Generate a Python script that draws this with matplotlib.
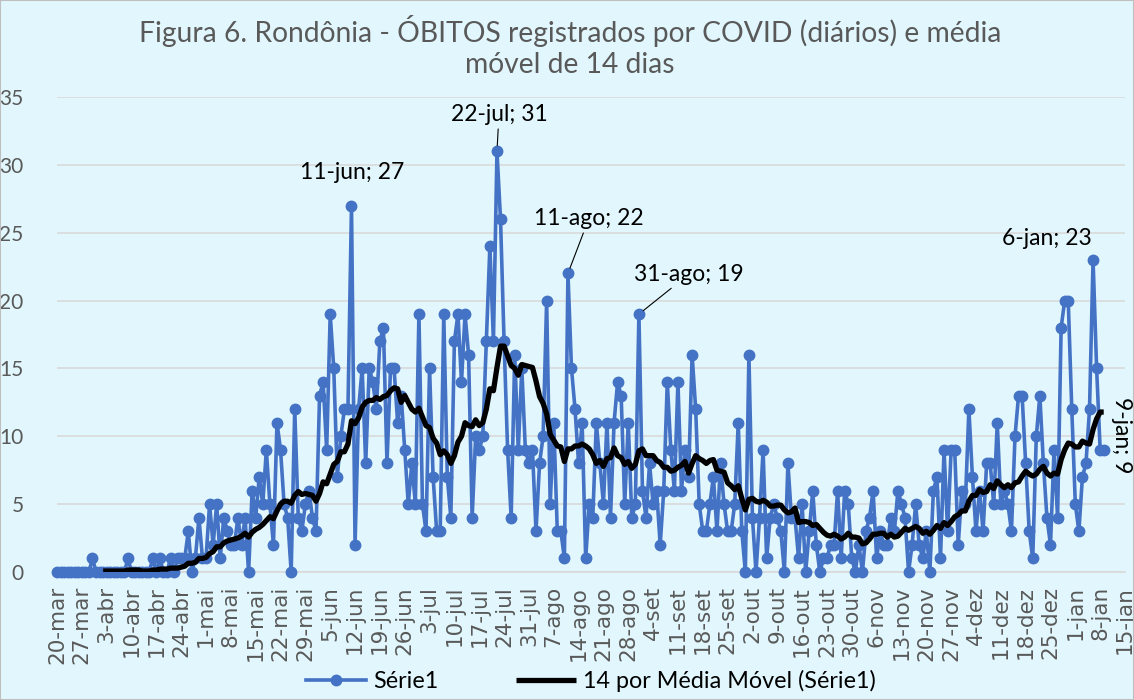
import numpy as np
import pandas as pd
import matplotlib
matplotlib.use('Agg')
import matplotlib.pyplot as plt

plt.rcParams['font.family'] = ['Lato', 'DejaVu Sans']

# óbitos diários, Rondônia, a partir de 20-mar (uma linha por semana)
obitos = [
    0, 0, 0, 0, 0, 0, 0,
    0, 0, 0, 1, 0, 0, 0,
    0, 0, 0, 0, 0, 0, 1,
    0, 0, 0, 0, 0, 0, 1,
    0, 1, 0, 0, 1, 0, 1,
    1, 1, 3, 0, 1, 4, 1,
    1, 5, 2, 5, 1, 4, 3,
    2, 2, 4, 2, 4, 0, 6,
    4, 7, 5, 9, 5, 2, 11,
    9, 5, 4, 0, 12, 4, 3,
    5, 6, 4, 3, 13, 14, 9,
    19, 15, 7, 10, 12, 12, 27,
    2, 12, 15, 8, 15, 14, 12,
    17, 18, 8, 15, 15, 11, 13,
    9, 5, 8, 5, 19, 5, 3,
    15, 7, 3, 3, 19, 7, 4,
    17, 19, 14, 19, 16, 4, 10,
    9, 10, 17, 24, 17, 31, 26,
    17, 9, 4, 16, 9, 15, 9,
    8, 9, 3, 8, 10, 20, 5,
    11, 3, 3, 1, 22, 15, 12,
    8, 11, 1, 5, 4, 11, 8,
    5, 11, 4, 11, 14, 13, 5,
    11, 4, 5, 19, 6, 4, 8,
    5, 6, 2, 6, 14, 9, 6,
    14, 6, 9, 7, 16, 12, 5,
    3, 3, 5, 7, 3, 8, 5,
    3, 3, 5, 11, 3, 0, 16,
    4, 0, 4, 9, 1, 4, 5,
    4, 3, 0, 8, 4, 4, 1,
    5, 0, 3, 6, 2, 0, 1,
    1, 2, 2, 6, 1, 6, 5,
    1, 0, 2, 0, 3, 4, 6,
    1, 3, 2, 2, 4, 3, 6,
    5, 4, 0, 2, 5, 2, 1,
    3, 0, 6, 7, 1, 9, 3,
    9, 9, 2, 6, 5, 12, 7,
    3, 6, 3, 8, 8, 5, 11,
    5, 6, 5, 3, 10, 13, 13,
    8, 3, 1, 10, 13, 8, 4,
    2, 9, 4, 18, 20, 20, 12,
    5, 3, 7, 8, 12, 23, 15,
    9, 9,
]
inicio = '2020-03-20'
fim_eixo = '2021-01-15'
meses = ['jan', 'fev', 'mar', 'abr', 'mai', 'jun', 'jul', 'ago', 'set', 'out', 'nov', 'dez']

# rótulos destacados: (data, texto)
destaques = [('2020-06-11', '11-jun; 27'), ('2020-07-22', '22-jul; 31'),
             ('2020-08-11', '11-ago; 22'), ('2020-08-31', '31-ago; 19'),
             ('2021-01-06', '6-jan; 23'), ('2021-01-09', '9-jan; 9')]

datas = pd.date_range(inicio, periods=len(obitos), freq='D')
serie = pd.Series(obitos, index=datas)
media = serie.rolling(14).mean()

bg = '#E1F7FD'
cinza = '#595959'

fig = plt.figure(figsize=(11.34, 7.0), dpi=100, facecolor=bg)
ax = fig.add_axes([57 / 1134, 128 / 700, 1068 / 1134, 475 / 700])
ax.set_facecolor(bg)

ax.plot(datas, serie.values, color='#4472C4', lw=2.6, marker='o', ms=7.5,
        clip_on=False, zorder=3, label='Série1')
ax.plot(datas, media.values, color='black', lw=3.8, zorder=4,
        solid_capstyle='butt', label='14 por Média Móvel (Série1)')

ax.set_xlim(pd.Timestamp(inicio), pd.Timestamp(fim_eixo))
ax.set_ylim(0, 35)
ax.set_yticks(range(0, 36, 5))
ticks = pd.date_range(inicio, fim_eixo, freq='7D')
ax.set_xticks(ticks)
ax.set_xticklabels([f'{d.day}-{meses[d.month - 1]}' for d in ticks], rotation=90,
                   family=['DejaVu Sans'])
ax.tick_params(axis='x', length=0, pad=10, labelsize=15.5, labelcolor=cinza)
ax.tick_params(axis='y', length=0, pad=24, labelsize=15, labelcolor=cinza)

for s in ['top', 'right', 'left']:
    ax.spines[s].set_visible(False)
ax.spines['bottom'].set_color('#D9D9D9')
ax.spines['bottom'].set_linewidth(1.2)
ax.grid(axis='y', color='#D9D9D9', lw=1.2)
ax.set_axisbelow(True)

# posição dos rótulos em pixels relativos ao ponto
offsets = [(1, 33, False, 0), (2, 37, True, 0), (21, 55, True, 0),
           (50, 40, True, 0), (-46, 21, False, 0), (18, 15, False, -90)]
for (d, txt), (dx, dy, linha, rot) in zip(destaques, offsets):
    t = pd.Timestamp(d)
    props = dict(arrowstyle='-', color='black', lw=0.8, shrinkA=1, shrinkB=4) if linha else None
    ax.annotate(txt, xy=(t, serie[t]), xytext=(dx, dy), textcoords='offset pixels',
                ha='center', va='center', fontsize=16.5, rotation=rot,
                arrowprops=props, zorder=5)

fig.text(570 / 1134, 1 - 15 / 700,
         'Figura 6. Rondônia - ÓBITOS registrados por COVID (diários) e média\nmóvel de 14 dias',
         ha='center', va='top', fontsize=20.3, color=cinza, linespacing=1.25)

leg = ax.legend(loc='center', bbox_to_anchor=(0.5, -0.229), ncol=2, frameon=False,
                fontsize=16.8, handlelength=2.6, handletextpad=0.3, columnspacing=3.3)

fig.patches.append(plt.Rectangle((0, 0), 1, 1, transform=fig.transFigure, fill=False,
                                 ec='#BFBFBF', lw=1.5))

fig.savefig('out.png', dpi=100, facecolor=bg)
